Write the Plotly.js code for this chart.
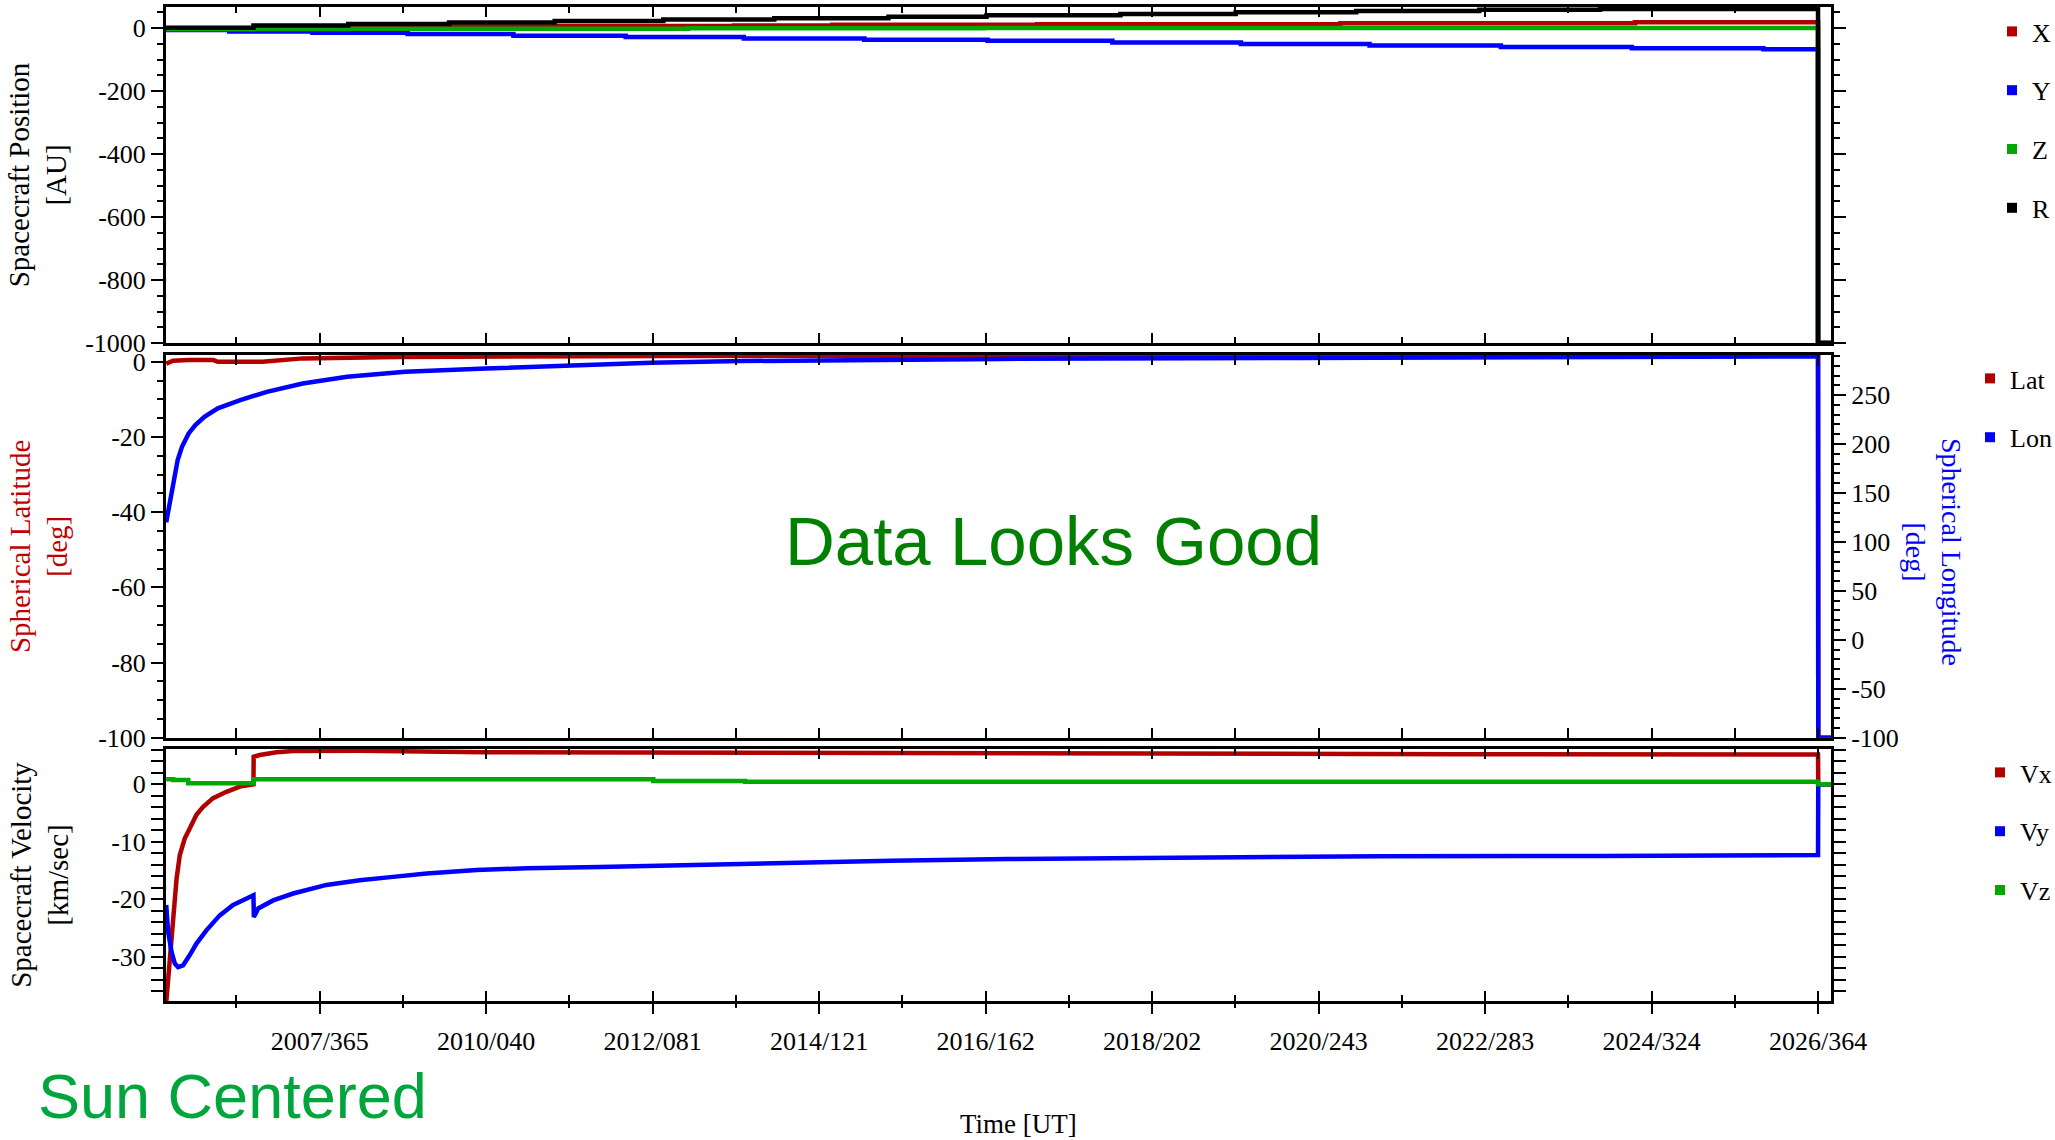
<!DOCTYPE html>
<html>
<head>
<meta charset="utf-8">
<script src="https://cdn.plot.ly/plotly-3.0.1.min.js"></script>
<style>
html,body{margin:0;padding:0;background:#fff;}
#chart{width:2055px;height:1140px;}
</style>
</head>
<body>
<div id="chart"></div>
<script>
// ---------------- DATA ----------------
// Time axis tick marks (YYYY/DOY labels)
const tickDates  = ['2007-12-31','2010-02-09','2012-03-21','2014-05-01','2016-06-10','2018-07-21','2020-08-30','2022-10-10','2024-11-19','2026-12-30'];
const tickLabels = ['2007/365','2010/040','2012/081','2014/121','2016/162','2018/202','2020/243','2022/283','2024/324','2026/364'];
const timeRange  = ['2006-01-18','2027-02-28'];

// Panel 1: spacecraft position [AU] (stepped series)
const posXTime = ['2006-01-18','2008-05-11','2009-08-21','2010-12-23','2013-04-01','2014-07-01','2017-02-04','2020-12-09','2024-09-03','2026-12-30','2027-02-28'];
const posXVal  = [-0.5, 2.5, 5.4, 6.7, 8, 10.7, 12.5, 15, 18.5, -1000, -1000];
const posYTime = ['2006-01-18','2006-11-07','2007-11-27','2009-02-10','2010-06-15','2011-11-17','2013-05-17','2014-11-26','2016-06-19','2018-01-18','2019-09-05','2021-04-23','2022-12-22','2024-08-20','2026-04-21','2026-12-30','2027-02-28'];
const posYVal  = [-6, -10.5, -14.7, -19, -24, -28.5, -32.7, -36.8, -40, -45.4, -50.7, -55.4, -60.2, -63.8, -67.5, -1000, -1000];
const posZTime = ['2006-01-18','2007-02-27','2008-05-11','2012-09-01','2016-06-01','2026-12-30','2027-02-28'];
const posZVal  = [-4, -3, -2, -0.5, 0.6, -1000, -1000];
const posRTime = ['2006-01-18','2007-02-27','2008-05-11','2009-08-21','2010-12-23','2012-05-09','2013-10-05','2015-03-18','2016-06-14','2018-02-24','2019-08-12','2021-02-20','2022-09-13','2024-03-25','2026-12-30','2027-02-28'];
const posRVal  = [1, 8, 13, 18, 22.5, 27, 31.5, 36, 40.5, 45, 50, 54.5, 58.5, 61, -1000, -1000];
const posTicks = [-1000, -800, -600, -400, -200, 0];
const posTickText = ['-1000','-800','-600','-400','-200','0'];

// Panel 2: spherical latitude / longitude [deg]
const latTime = ['2006-01-19','2006-02-20','2006-05-01','2006-08-25','2006-09-15','2007-04-10','2007-10-13','2008-12-20','2013-11-23','2026-12-30','2026-12-31','2027-02-28'];
const latVal  = [-0.5, 0.3, 0.45, 0.45, 0, 0, 0.9, 1.3, 1.6, 1.7, -100, -100];
const lonTime = ['2006-01-19','2006-01-30','2006-02-20','2006-03-13','2006-04-02','2006-05-03','2006-06-03','2006-07-15','2006-09-15','2006-12-28','2007-04-30','2007-10-13','2008-05-06','2009-01-30','2010-02-07','2011-03-06','2012-03-12','2013-05-01','2014-06-17','2016-08-15','2020-06-06','2025-04-02','2026-12-30','2026-12-31','2027-02-28'];
const lonVal  = [120, 132.6, 159.9, 183.6, 197.2, 210.9, 219.4, 227.9, 236.5, 244.9, 253.4, 261.9, 268.7, 273.8, 277.2, 280.7, 283, 284.8, 285.8, 287, 288, 289, 289.5, -100, -100];
const latTicks = [-100, -80, -60, -40, -20, 0];
const latTickText = ['-100','-80','-60','-40','-20','0'];
const lonTicks = [-100, -50, 0, 50, 100, 150, 200, 250];
const lonTickText = ['-100','-50','0','50','100','150','200','250'];

// Panel 3: spacecraft velocity [km/sec]
const vxTime = ['2006-01-19','2006-01-28','2006-02-04','2006-02-19','2006-03-08','2006-03-23','2006-04-15','2006-05-08','2006-06-08','2006-07-09','2006-08-24','2006-10-25','2006-12-26','2007-02-27','2007-02-28','2007-03-28','2007-06-14','2007-08-30','2008-07-03','2010-02-01','2013-09-01','2022-06-01','2026-12-30','2026-12-31','2027-02-28'];
const vxVal  = [-38, -33.8, -31.5, -23.3, -16.4, -12.3, -9.4, -7.7, -5.3, -3.9, -2.4, -1.3, -0.4, 0, 4.8, 5.1, 5.6, 5.8, 5.85, 5.6, 5.45, 5.25, 5.2, 0, 0];
const vyTime = ['2006-01-19','2006-01-28','2006-02-13','2006-02-28','2006-03-15','2006-04-07','2006-05-08','2006-06-08','2006-07-24','2006-09-24','2006-11-25','2007-01-26','2007-02-27','2007-03-01','2007-03-21','2007-05-29','2007-08-30','2008-01-31','2008-07-03','2008-12-04','2009-05-09','2009-12-26','2010-08-14','2011-07-20','2013-01-12','2015-03-28','2016-09-21','2018-09-24','2021-06-10','2024-03-25','2026-08-22','2026-12-30','2026-12-31','2027-02-28'];
const vyVal  = [-21, -25.7, -29.2, -31.2, -31.8, -31.5, -29.7, -27.7, -25.4, -22.8, -21.0, -19.8, -19.3, -23.1, -21.6, -20.2, -19.0, -17.5, -16.7, -16.1, -15.5, -14.9, -14.6, -14.4, -13.9, -13.3, -13.0, -12.8, -12.5, -12.45, -12.3, -12.3, 0, 0];
const vzTime = ['2006-01-19','2006-02-20','2006-05-01','2007-02-28','2012-03-24','2013-05-23','2026-12-30','2027-02-28'];
const vzVal  = [0.9, 0.75, 0.2, 0.9, 0.57, 0.45, 0, 0];
const velTicks = [-30, -20, -10, 0];
const velTickText = ['-30','-20','-10','0'];

// ---------------- STYLE / LAYOUT ----------------
const SERIF = 'Liberation Serif, Times New Roman, serif';
const SANS  = 'Liberation Sans, Arial, sans-serif';
const RED = '#b00000', BLUE = '#0000ff', GREEN = '#00a800', BLACK = '#000000';

const W = 2055, H = 1140;
const PL = 166, PR = 1831, PT = 7, PB = 1001;
const px2x = p => (p - PL) / (PR - PL);
const px2y = p => (PB - p) / (PB - PT);

function minorDates(ticks){
  const t = ticks.map(d => Date.parse(d));
  const out = [];
  const half = (t[1] - t[0]) / 2;
  out.push(new Date(t[0] - half).toISOString().slice(0,10));
  for (let i = 0; i < t.length - 1; i++) out.push(new Date((t[i] + t[i+1]) / 2).toISOString().slice(0,10));
  return out;
}
const minors = minorDates(tickDates);

function line(x, y, color, xa, ya, shape){
  return {type:'scatter', mode:'lines', x:x, y:y, xaxis:xa, yaxis:ya,
          line:{color:color, width:4.5, shape:shape || 'linear'},
          showlegend:false, hoverinfo:'skip'};
}
function key(name, color, xa, ya, leg){
  return {type:'scatter', mode:'markers', x:[null], y:[null], xaxis:xa, yaxis:ya,
          name:name, legend:leg, legendgroup:name, showlegend:true,
          marker:{symbol:'square', size:10, color:color}};
}

const traces = [
  line(posXTime, posXVal, RED,   'x3', 'y', 'hv'),
  line(posYTime, posYVal, BLUE,  'x3', 'y', 'hv'),
  line(posZTime, posZVal, GREEN, 'x3', 'y', 'hv'),
  line(posRTime, posRVal, BLACK, 'x3', 'y', 'hv'),
  line(latTime, latVal, RED,  'x2', 'y2'),
  line(lonTime, lonVal, BLUE, 'x2', 'y4'),
  line(vxTime, vxVal, RED,   'x', 'y3'),
  line(vyTime, vyVal, BLUE,  'x', 'y3'),
  line(vzTime, vzVal, GREEN, 'x4', 'y3', 'hv'),
  key('X', RED, 'x3', 'y', 'legend'),
  key('Y', BLUE, 'x3', 'y', 'legend'),
  key('Z', GREEN, 'x3', 'y', 'legend'),
  key('R', BLACK, 'x3', 'y', 'legend'),
  key('Lat', RED, 'x2', 'y2', 'legend2'),
  key('Lon', BLUE, 'x2', 'y4', 'legend2'),
  key('Vx', RED, 'x', 'y3', 'legend3'),
  key('Vy', BLUE, 'x', 'y3', 'legend3'),
  key('Vz', GREEN, 'x4', 'y3', 'legend3')
];

const tickFont = {family:SERIF, size:26, color:'black'};
function xAxis(extra){
  return Object.assign({
    type:'date', range:timeRange, showgrid:false, zeroline:false,
    showline:true, linecolor:'black', linewidth:3, mirror:'allticks',
    ticks:'inside', ticklen:10, tickwidth:2, tickcolor:'black',
    tickmode:'array', tickvals:tickDates, showticklabels:false,
    minor:{tickmode:'array', tickvals:minors, ticks:'inside', ticklen:6, tickwidth:2, tickcolor:'black', showgrid:false}
  }, extra);
}
function yAxis(extra){
  return Object.assign({
    showgrid:false, zeroline:false, showline:true, linecolor:'black', linewidth:3,
    ticks:'outside', ticklen:12, tickwidth:2, tickcolor:'black', tickmode:'array',
    tickfont:tickFont
  }, extra);
}
function legendAt(pxLeft, pxTop){
  return {x:px2x(pxLeft), y:px2y(pxTop), xanchor:'left', yanchor:'top',
          bgcolor:'rgba(0,0,0,0)', borderwidth:0, tracegroupgap:22,
          font:{family:SERIF, size:26, color:'black'}};
}
const titleFont = c => ({family:SERIF, size:29, color:c});

const layout = {
  width:W, height:H,
  margin:{l:PL, r:W-PR, t:PT, b:H-PB, autoexpand:false},
  paper_bgcolor:'white', plot_bgcolor:'white',
  font:{family:SERIF, size:26, color:'black'},
  xaxis:  xAxis({anchor:'y3'}),
  xaxis2: xAxis({anchor:'y2', matches:'x'}),
  xaxis3: xAxis({anchor:'y', matches:'x'}),
  xaxis4: {type:'date', range:timeRange, overlaying:'x', anchor:'y3', side:'bottom',
           showgrid:false, zeroline:false, showline:false,
           ticks:'outside', ticklen:12, tickwidth:2, tickcolor:'black',
           tickmode:'array', tickvals:tickDates, ticktext:tickLabels, tickfont:tickFont,
           ticklabelstandoff:5,
           minor:{tickmode:'array', tickvals:minors, ticks:'outside', ticklen:6, tickwidth:2, tickcolor:'black', showgrid:false}},
  yaxis: yAxis({domain:[px2y(343), 1], range:[-1000, 67], anchor:'x3', mirror:'allticks',
           tickvals:posTicks, ticktext:posTickText,
           minor:{tickmode:'linear', tick0:0, dtick:50, ticks:'outside', ticklen:6, tickwidth:2, tickcolor:'black'},
           title:{text:'Spacecraft Position<br>[AU]', font:titleFont('black'), standoff:10}}),
  yaxis2: yAxis({domain:[px2y(737.7), px2y(355)], range:[-100, 1.8], anchor:'x2', mirror:false,
           tickvals:latTicks, ticktext:latTickText,
           minor:{tickmode:'linear', tick0:0, dtick:5, ticks:'outside', ticklen:6, tickwidth:2, tickcolor:'black'},
           title:{text:'Spherical Latitude<br>[deg]', font:titleFont('#c00000'), standoff:22}}),
  yaxis4: yAxis({overlaying:'y2', side:'right', anchor:'x2', range:[-100, 291],
           tickvals:lonTicks, ticktext:lonTickText,
           minor:{tickmode:'linear', tick0:0, dtick:10, ticks:'outside', ticklen:6, tickwidth:2, tickcolor:'black'}}),
  yaxis3: yAxis({domain:[0, px2y(749)], range:[-37.7, 6.15], anchor:'x', mirror:'allticks',
           tickvals:velTicks, ticktext:velTickText,
           minor:{tickmode:'linear', tick0:0, dtick:2, ticks:'outside', ticklen:6, tickwidth:2, tickcolor:'black'},
           title:{text:'Spacecraft Velocity<br>[km/sec]', font:titleFont('black'), standoff:34}}),
  legend:  legendAt(1992, 8),
  legend2: legendAt(1970, 355),
  legend3: legendAt(1980, 749),
  annotations:[
    {text:'Time [UT]', xref:'paper', yref:'paper', x:px2x(1018), y:px2y(1124),
     xanchor:'center', yanchor:'middle', showarrow:false,
     font:{family:SERIF, size:27, color:'black'}},
    {text:'Spherical Longitude<br>[deg]', xref:'paper', yref:'paper', x:px2x(1934), y:px2y(552),
     xanchor:'center', yanchor:'middle', textangle:90, showarrow:false,
     font:{family:SERIF, size:28, color:BLUE}},
    {text:'Data Looks Good', xref:'paper', yref:'paper', x:px2x(1053), y:px2y(541),
     xanchor:'center', yanchor:'middle', showarrow:false,
     font:{family:SANS, size:69, color:'#008000'}},
    {text:'Sun Centered', xref:'paper', yref:'paper', x:px2x(36), y:px2y(1096),
     xanchor:'left', yanchor:'middle', showarrow:false,
     font:{family:SANS, size:63, color:'#00a63c'}}
  ]
};

Plotly.newPlot('chart', traces, layout, {displayModeBar:false, staticPlot:true});
</script>
</body>
</html>
